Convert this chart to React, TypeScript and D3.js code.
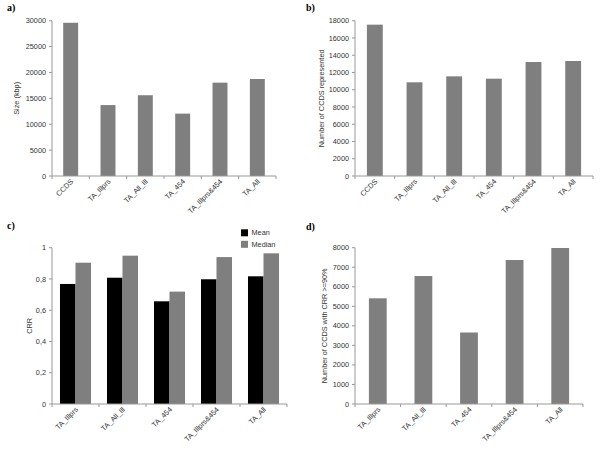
import React from "react";
import * as d3 from "d3";

// ---- Data ----
const catsAB = ["CCDS", "TA_Illprs", "TA_All_Ill", "TA_454", "TA_Illprs&454", "TA_All"];
const sizeKbp = [29600, 13700, 15600, 12050, 18030, 18740];
const ccdsRepresented = [17540, 10860, 11550, 11280, 13210, 13330];

const catsCD = ["TA_Illprs", "TA_All_Ill", "TA_454", "TA_Illprs&454", "TA_All"];
const crrMean = [0.768, 0.808, 0.657, 0.798, 0.817];
const crrMedian = [0.904, 0.949, 0.719, 0.94, 0.964];
const ccdsCrr90 = [5410, 6550, 3660, 7370, 7985];

const ticksA = [0, 5000, 10000, 15000, 20000, 25000, 30000];
const ticksB = [0, 2000, 4000, 6000, 8000, 10000, 12000, 14000, 16000, 18000];
const ticksC = [0, 0.2, 0.4, 0.6, 0.8, 1];
const ticksD = [0, 1000, 2000, 3000, 4000, 5000, 6000, 7000, 8000];

const legendLabels = ["Mean", "Median"];

const GRAY = "#7f7f7f";
const BLACK = "#000000";
const AXIS = "#999999";
const FONT = "'Liberation Sans', Arial, sans-serif";
const SERIF = "'Liberation Serif', 'Times New Roman', serif";

type PanelProps = {
  label: string;
  labelX: number;
  labelY: number;
  cats: string[];
  series: number[][];
  colors: string[];
  ticks: number[];
  fmt: (v: number) => string;
  x0: number;
  x1: number;
  yTop: number;
  yBottom: number;
  max: number;
  barFrac: number;
  yTitle: string;
  yTitleX: number;
};

function Panel(p: PanelProps) {
  const x = d3.scaleBand<string>().domain(p.cats).range([p.x0, p.x1]).padding(0);
  const y = d3.scaleLinear().domain([0, p.max]).range([p.yBottom, p.yTop]);
  const bw = x.bandwidth();
  const barW = bw * p.barFrac;
  const n = p.series.length;
  const groupW = barW * n;
  const bounds = [...p.cats.map((c) => x(c) as number), p.x1];
  return (
    <g>
      <text x={p.labelX} y={p.labelY} fontFamily={SERIF} fontWeight="bold" fontSize={10}>
        {p.label}
      </text>
      {p.series.map((vals, si) =>
        vals.map((v, i) => {
          const cx = (x(p.cats[i]) as number) + bw / 2;
          const bx = cx - groupW / 2 + si * barW;
          return (
            <rect
              key={`${si}-${i}`}
              x={bx}
              y={y(v)}
              width={barW}
              height={y(0) - y(v)}
              fill={p.colors[si]}
            />
          );
        })
      )}
      {/* y axis */}
      <line x1={p.x0} x2={p.x0} y1={p.yTop} y2={p.yBottom} stroke={AXIS} strokeWidth={1} />
      {p.ticks.map((t) => (
        <g key={t}>
          <line x1={p.x0 - 3} x2={p.x0} y1={y(t)} y2={y(t)} stroke={AXIS} />
          <text
            x={p.x0 - 6}
            y={y(t)}
            dy="0.35em"
            textAnchor="end"
            fontFamily={FONT}
            fontSize={7.3}
            fill="#333"
          >
            {p.fmt(t)}
          </text>
        </g>
      ))}
      {/* x axis */}
      <line x1={p.x0} x2={p.x1} y1={p.yBottom} y2={p.yBottom} stroke={AXIS} />
      {bounds.map((b, i) => (
        <line key={i} x1={b} x2={b} y1={p.yBottom} y2={p.yBottom + 3} stroke={AXIS} />
      ))}
      {p.cats.map((c) => {
        const cx = (x(c) as number) + bw / 2;
        return (
          <text
            key={c}
            transform={`translate(${cx + 3},${p.yBottom + 6}) rotate(-45)`}
            textAnchor="end"
            fontFamily={FONT}
            fontSize={7.3}
            fill="#333"
          >
            {c}
          </text>
        );
      })}
      <text
        transform={`translate(${p.yTitleX},${(p.yTop + p.yBottom) / 2}) rotate(-90)`}
        textAnchor="middle"
        fontFamily={FONT}
        fontSize={7.3}
        fill="#333"
      >
        {p.yTitle}
      </text>
    </g>
  );
}

export default function App() {
  const fmtInt = (v: number) => d3.format("d")(v);
  const fmtComma = (v: number) => String(v).replace(".", ",");
  return (
    <svg
      width={600}
      height={450}
      style={{ position: "absolute", left: 0, top: 0, background: "#fff" }}
    >
      <rect width={600} height={450} fill="#fff" />
      <Panel
        label="a)"
        labelX={7}
        labelY={11}
        cats={catsAB}
        series={[sizeKbp]}
        colors={[GRAY]}
        ticks={ticksA}
        fmt={fmtInt}
        x0={52}
        x1={276}
        yTop={20.7}
        yBottom={176}
        max={30000}
        barFrac={0.4}
        yTitle="Size (kbp)"
        yTitleX={19}
      />
      <Panel
        label="b)"
        labelX={306}
        labelY={11}
        cats={catsAB}
        series={[ccdsRepresented]}
        colors={[GRAY]}
        ticks={ticksB}
        fmt={fmtInt}
        x0={355}
        x1={593}
        yTop={20.7}
        yBottom={176}
        max={18000}
        barFrac={0.4}
        yTitle="Number of CCDS represented"
        yTitleX={324}
      />
      <Panel
        label="c)"
        labelX={7}
        labelY={229}
        cats={catsCD}
        series={[crrMean, crrMedian]}
        colors={[BLACK, GRAY]}
        ticks={ticksC}
        fmt={fmtComma}
        x0={52}
        x1={287}
        yTop={247.7}
        yBottom={404}
        max={1}
        barFrac={0.33}
        yTitle="CRR"
        yTitleX={32}
      />
      <Panel
        label="d)"
        labelX={306}
        labelY={230}
        cats={catsCD}
        series={[ccdsCrr90]}
        colors={[GRAY]}
        ticks={ticksD}
        fmt={fmtInt}
        x0={355}
        x1={583}
        yTop={247.7}
        yBottom={404}
        max={8000}
        barFrac={0.39}
        yTitle="Number of CCDS with CRR >=90%"
        yTitleX={327}
      />
      {/* legend for c */}
      {legendLabels.map((l, i) => (
        <g key={l}>
          <rect x={241} y={229.3 + i * 11.5} width={7} height={7} fill={[BLACK, GRAY][i]} />
          <text
            x={251.5}
            y={232.8 + i * 11.5}
            dy="0.35em"
            fontFamily={FONT}
            fontSize={7.3}
            fill="#333"
          >
            {l}
          </text>
        </g>
      ))}
    </svg>
  );
}
